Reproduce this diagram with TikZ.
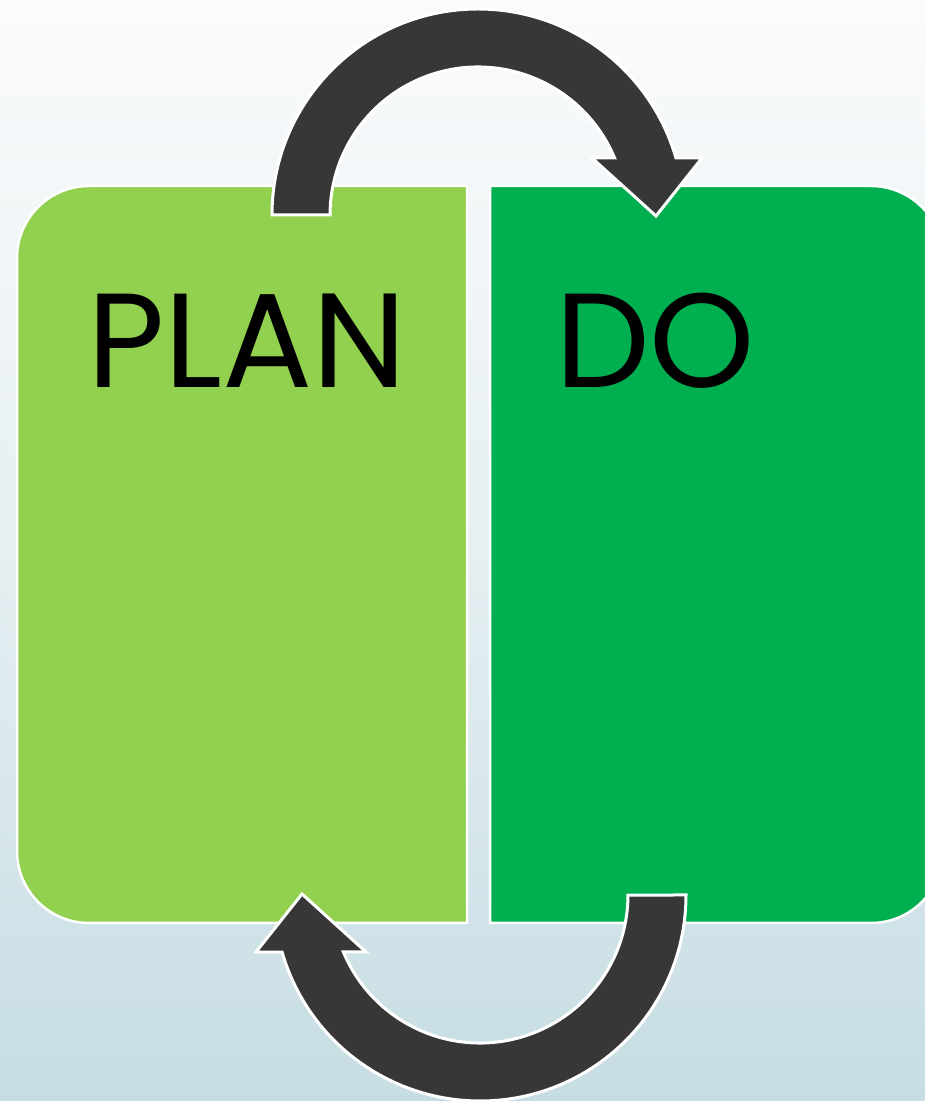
\documentclass[tikz,border=0pt]{standalone}
\usepackage{fontspec}
\newfontfamily\pdfont{Poppins}
\definecolor{bgtop}{HTML}{FAFBFC}
\definecolor{bgmid}{HTML}{E6EFF2}
\definecolor{bgbot}{HTML}{C6DDE3}
\definecolor{plangreen}{HTML}{92D050}
\definecolor{dogreen}{HTML}{00B050}
\definecolor{arrowgray}{HTML}{373737}
\tikzset{
  boxshape/.style={draw=white, line width=2.5pt},
  cyclearrow/.style={fill=arrowgray, draw=white, line width=3pt, line join=miter},
  bigword/.style={inner sep=0pt, anchor=base west, font=\pdfont\fontsize{134}{134}\selectfont}
}
\begin{document}
\begin{tikzpicture}[x=1pt,y=1pt]
\useasboundingbox (0,0) rectangle (925,1101);
\shade[top color=bgtop, bottom color=bgbot, middle color=bgmid] (0,0) rectangle (925,1101);
\begin{scope}
\clip (0,0) rectangle (925,1101);
% PLAN box (rounded on the left)
\path[boxshape, fill=plangreen]
  (467,178) -- (89,178) arc[start angle=270, end angle=180, radius=72]
  -- (17,843) arc[start angle=180, end angle=90, radius=72] -- (467,915) -- cycle;
% DO box (rounded on the right, runs past the edge)
\path[boxshape, fill=dogreen]
  (490,178) -- (871,178) arc[start angle=270, end angle=360, radius=72]
  -- (943,843) arc[start angle=0, end angle=90, radius=72] -- (490,915) -- cycle;
\node[bigword] (plan) at (87,713) {PLAN};
\node[bigword] (do) at (555,713) {DO};
% top arrow: PLAN -> DO
\path[cyclearrow]
  (272,886) arc[start angle=180, end angle=16.07, radius=206]
  -- (702,943) -- (656,885) -- (592,943) -- (614.6,943)
  arc[start angle=22.65, end angle=180, radius=148] -- cycle;
% bottom arrow: DO -> PLAN
\begin{scope}[rotate around={180:(479,546)}]
\path[cyclearrow]
  (272,886) arc[start angle=180, end angle=16.07, radius=206]
  -- (702,943) -- (656,885) -- (592,943) -- (614.6,943)
  arc[start angle=22.65, end angle=180, radius=148] -- cycle;
\end{scope}
\end{scope}
\end{tikzpicture}
\end{document}
